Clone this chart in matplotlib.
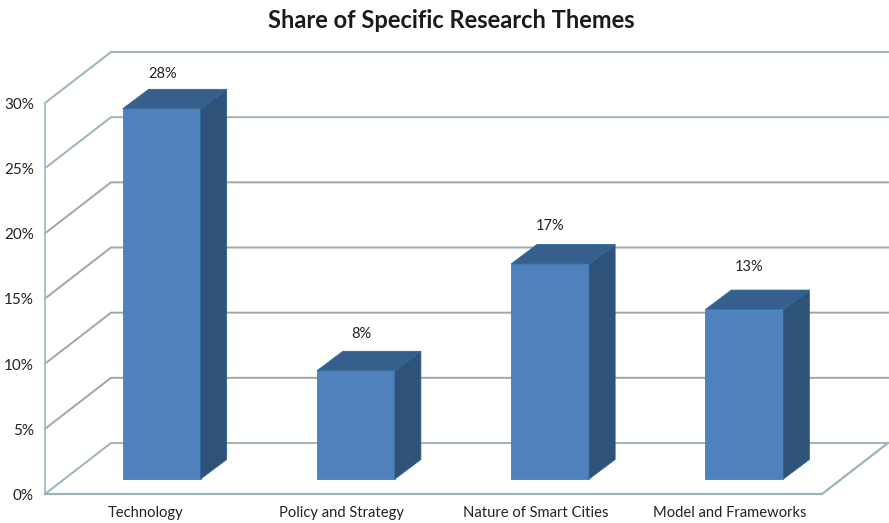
#!/usr/bin/env python3
import matplotlib
matplotlib.use('Agg')
import matplotlib.pyplot as plt
from matplotlib.patches import Polygon

plt.rcParams['font.family'] = ['Lato', 'DejaVu Sans']

themes = ['Technology', 'Policy and Strategy', 'Nature of Smart Cities', 'Model and Frameworks']
heights = [28.4, 8.3, 16.5, 13.0]
bar_labels = ['28%', '8%', '17%', '13%']
y_ticks = [0, 5, 10, 15, 20, 25, 30]

# label nudges in px, the labels do not sit at a fixed distance from the bars
label_dx = [1, 5, 0, 5]
label_dy = [15, 17, 18, 23]
theme_dx = [3, 5, 5, 5]

W, H = 889, 523
# pixel scale of the chart
left_px, right_px = 45, 822
base_px, top_px = 494, 103
x_unit = (right_px - left_px) / 4.0      # px per category
y_unit = (base_px - top_px) / 30.0       # px per percent

# depth of the floor and of the bars, in data units
dx_wall = 66 / x_unit
dy_wall = 51 / y_unit
dx_bar = 26 / x_unit
dy_bar = 19.5 / y_unit
bar_w = 78 / x_unit
off_x = 19.5 / x_unit                    # bar front sits a bit behind the axis plane
off_y = 15 / y_unit

fig = plt.figure(figsize=(W / 100, H / 100), dpi=100)
ax = fig.add_axes([0, 0, 1, 1])
ax.set_xlim(-0.5 - left_px / x_unit, -0.5 + (W - left_px) / x_unit)
ax.set_ylim(-(H - base_px) / y_unit, base_px / y_unit)
ax.axis('off')

grid_col = '#9db4ba'
x0, x1 = -0.5, 3.5
for t in y_ticks:
    col = '#9ba9ac' if t in (5, 10, 15, 20) else grid_col
    ax.plot([x0, x0 + dx_wall, x1 + dx_wall], [t, t + dy_wall, t + dy_wall],
            color=col, lw=1.4, solid_joinstyle='miter', zorder=1)
    ax.text(x0 - 11 / x_unit, t - 2 / y_unit, '%d%%' % t, ha='right', va='center',
            fontsize=11, color='#222222')
ax.plot([x0, x0], [0, 30], color='#a9c0c6', lw=1.4, zorder=1)
ax.plot([x0, x1, x1 + dx_wall], [0, 0, dy_wall], color=grid_col, lw=1.6,
        solid_joinstyle='miter', zorder=1)

for i, (theme, h, lab) in enumerate(zip(themes, heights, bar_labels)):
    l = i - 0.5 + (x_unit - 78) / 2 / x_unit + off_x
    r = l + bar_w
    b = off_y
    t = off_y + h
    ax.add_patch(Polygon([(l, b), (r, b), (r, t), (l, t)], closed=True,
                         fc='#4f81bd', ec='#3f7fc0', lw=0.6, zorder=3))
    ax.add_patch(Polygon([(r, b), (r + dx_bar, b + dy_bar), (r + dx_bar, t + dy_bar), (r, t)],
                         closed=True, fc='#2f5279', ec='#2a6496', lw=0.6, zorder=3))
    ax.add_patch(Polygon([(l, t), (r, t), (r + dx_bar, t + dy_bar), (l + dx_bar, t + dy_bar)],
                         closed=True, fc='#375f8e', ec='#2a6a9c', lw=0.6, zorder=3))
    ax.text((l + r) / 2 + label_dx[i] / x_unit, t + dy_bar + label_dy[i] / y_unit, lab,
            ha='center', va='center', fontsize=10.5, color='#222222')
    ax.text(i + theme_dx[i] / x_unit, -19 / y_unit, theme, ha='center', va='center',
            fontsize=10.6, color='#222222')

ax.text(-0.5 + (451 - left_px) / x_unit, (base_px - 20) / y_unit, 'Share of Specific Research Themes',
        ha='center', va='center', fontsize=17, fontweight='bold', color='#1a1a1a')

plt.savefig('out.png', dpi=100)
